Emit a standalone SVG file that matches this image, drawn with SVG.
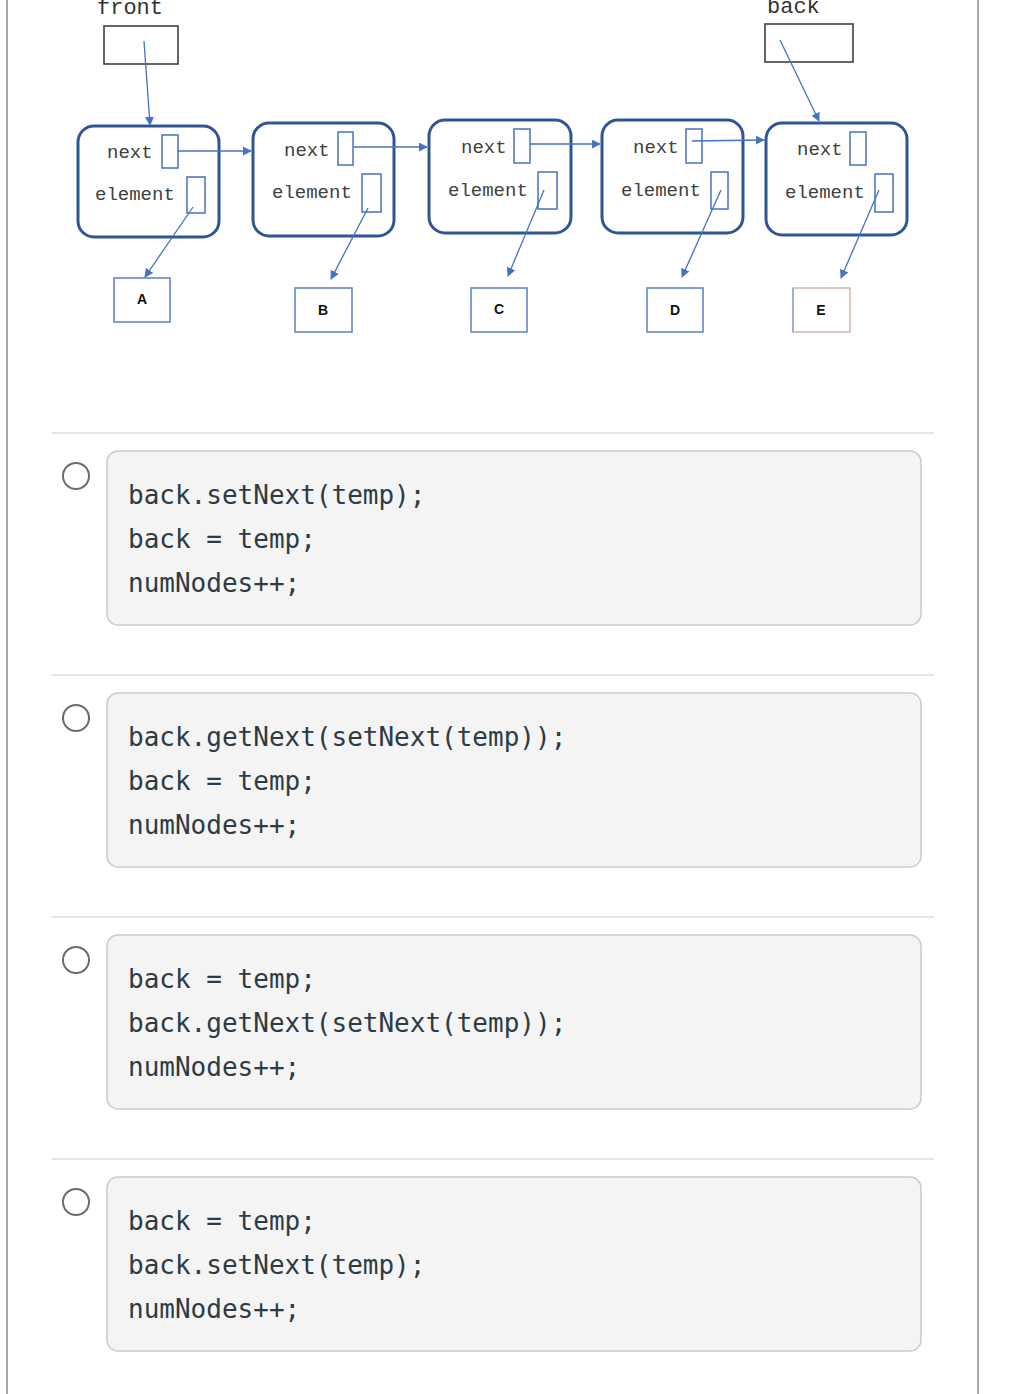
<svg xmlns="http://www.w3.org/2000/svg" width="1016" height="1394" viewBox="0 0 1016 1394">
<defs>
<marker id="ah" viewBox="0 0 10 10" refX="9" refY="5" markerWidth="9" markerHeight="9" markerUnits="userSpaceOnUse" orient="auto">
<path d="M0,0 L10,5 L0,10 z" fill="#4472c4"/>
</marker>
<style>
.node{fill:#fff;stroke:#2f5597;stroke-width:3}
.slot{fill:#fff;stroke:#4472c4;stroke-width:1.5}
.lbl{font-family:"Liberation Mono","DejaVu Sans Mono",monospace;font-size:19px;fill:#404040}
.ptr{fill:#fff;stroke:#404040;stroke-width:1.6}
.ptrlbl{font-family:"Liberation Mono","DejaVu Sans Mono",monospace;font-size:22px;fill:#333}
.val{fill:#fff;stroke:#5a7fc8;stroke-width:1.5}
.vtxt{font-family:"Liberation Sans",Arial,sans-serif;font-size:14px;font-weight:bold;fill:#111;text-anchor:middle}
.conn{stroke:#4472c4;stroke-width:1.3;fill:none;marker-end:url(#ah)}
.sep{stroke:#dcdcdc;stroke-width:1.5}
.radio{fill:#fff;stroke:#6b6b6b;stroke-width:2}
.code{fill:#f4f4f4;stroke:#c7cdd1;stroke-width:1.5}
.ctxt{font-family:"DejaVu Sans Mono","Liberation Mono",monospace;font-size:26px;fill:#2d3b45}
</style>
</defs>
<rect x="0" y="0" width="1016" height="1394" fill="#fff"/>
<line x1="7" y1="0" x2="7" y2="1394" stroke="#a8a8a8" stroke-width="2"/>
<line x1="978" y1="0" x2="978" y2="1394" stroke="#a8a8a8" stroke-width="2"/>

<g id="front">
<text class="ptrlbl" x="97" y="14">front</text>
<rect class="ptr" x="104" y="26" width="74" height="38"/>
</g>
<g id="back">
<text class="ptrlbl" x="767" y="13">back</text>
<rect class="ptr" x="765" y="24" width="88" height="38"/>
</g>

<g id="node1">
<rect class="node" x="78" y="126" width="141" height="111" rx="16"/>
<text class="lbl" x="107" y="158">next</text>
<text class="lbl" x="95" y="200">element</text>
<rect class="slot" x="162" y="135" width="16" height="33"/>
<rect class="slot" x="187" y="177" width="18" height="36"/>
</g>
<g id="node2">
<rect class="node" x="253" y="123" width="141" height="113" rx="16"/>
<text class="lbl" x="284" y="156">next</text>
<text class="lbl" x="272" y="198">element</text>
<rect class="slot" x="338" y="132" width="15" height="33"/>
<rect class="slot" x="362" y="174" width="19" height="38"/>
</g>
<g id="node3">
<rect class="node" x="429" y="120" width="142" height="113" rx="16"/>
<text class="lbl" x="461" y="153">next</text>
<text class="lbl" x="448" y="196">element</text>
<rect class="slot" x="514" y="129" width="16" height="34"/>
<rect class="slot" x="538" y="172" width="19" height="37"/>
</g>
<g id="node4">
<rect class="node" x="602" y="120" width="141" height="113" rx="16"/>
<text class="lbl" x="633" y="153">next</text>
<text class="lbl" x="621" y="196">element</text>
<rect class="slot" x="686" y="129" width="16" height="34"/>
<rect class="slot" x="711" y="172" width="17" height="37"/>
</g>
<g id="node5">
<rect class="node" x="766" y="123" width="141" height="112" rx="16"/>
<text class="lbl" x="797" y="155">next</text>
<text class="lbl" x="785" y="198">element</text>
<rect class="slot" x="850" y="132" width="16" height="33"/>
<rect class="slot" x="875" y="174" width="18" height="38"/>
</g>

<g id="valA"><rect class="val" x="114" y="278" width="56" height="44"/><text class="vtxt" x="142" y="304">A</text></g>
<g id="valB"><rect class="val" x="295" y="288" width="57" height="44"/><text class="vtxt" x="323" y="315">B</text></g>
<g id="valC"><rect class="val" x="471" y="288" width="56" height="44"/><text class="vtxt" x="499" y="314">C</text></g>
<g id="valD"><rect class="val" x="647" y="288" width="56" height="44"/><text class="vtxt" x="675" y="315">D</text></g>
<g id="valE"><rect x="793" y="288" width="57" height="44" fill="#fff" stroke="#d8b4ab" stroke-width="1.5"/><line x1="793" y1="288" x2="793" y2="332" stroke="#8fa6d6" stroke-width="1.5"/><text class="vtxt" x="821" y="315">E</text></g>

<g id="connectors">
<line class="conn" x1="144" y1="41" x2="150" y2="125"/>
<line class="conn" x1="780" y1="40" x2="819" y2="121"/>
<line class="conn" x1="178" y1="151" x2="251" y2="151"/>
<line class="conn" x1="354" y1="147" x2="427" y2="147"/>
<line class="conn" x1="530" y1="144" x2="600" y2="144"/>
<line class="conn" x1="692" y1="141" x2="764" y2="140"/>
<line class="conn" x1="193" y1="207" x2="145" y2="277"/>
<line class="conn" x1="368" y1="208" x2="331" y2="279"/>
<line class="conn" x1="544" y1="190" x2="508" y2="276"/>
<line class="conn" x1="721" y1="190" x2="682" y2="277"/>
<line class="conn" x1="879" y1="190" x2="841" y2="278"/>
</g>

<g id="option1">
<line class="sep" x1="52" y1="433" x2="934" y2="433"/>
<circle class="radio" cx="76" cy="476" r="13"/>
<rect class="code" x="107" y="451" width="814" height="174" rx="11"/>
<text class="ctxt" x="128" y="504">back.setNext(temp);</text>
<text class="ctxt" x="128" y="548">back = temp;</text>
<text class="ctxt" x="128" y="592">numNodes++;</text>
</g>
<g id="option2">
<line class="sep" x1="52" y1="675" x2="934" y2="675"/>
<circle class="radio" cx="76" cy="718" r="13"/>
<rect class="code" x="107" y="693" width="814" height="174" rx="11"/>
<text class="ctxt" x="128" y="746">back.getNext(setNext(temp));</text>
<text class="ctxt" x="128" y="790">back = temp;</text>
<text class="ctxt" x="128" y="834">numNodes++;</text>
</g>
<g id="option3">
<line class="sep" x1="52" y1="917" x2="934" y2="917"/>
<circle class="radio" cx="76" cy="960" r="13"/>
<rect class="code" x="107" y="935" width="814" height="174" rx="11"/>
<text class="ctxt" x="128" y="988">back = temp;</text>
<text class="ctxt" x="128" y="1032">back.getNext(setNext(temp));</text>
<text class="ctxt" x="128" y="1076">numNodes++;</text>
</g>
<g id="option4">
<line class="sep" x1="52" y1="1159" x2="934" y2="1159"/>
<circle class="radio" cx="76" cy="1202" r="13"/>
<rect class="code" x="107" y="1177" width="814" height="174" rx="11"/>
<text class="ctxt" x="128" y="1230">back = temp;</text>
<text class="ctxt" x="128" y="1274">back.setNext(temp);</text>
<text class="ctxt" x="128" y="1318">numNodes++;</text>
</g>
</svg>
